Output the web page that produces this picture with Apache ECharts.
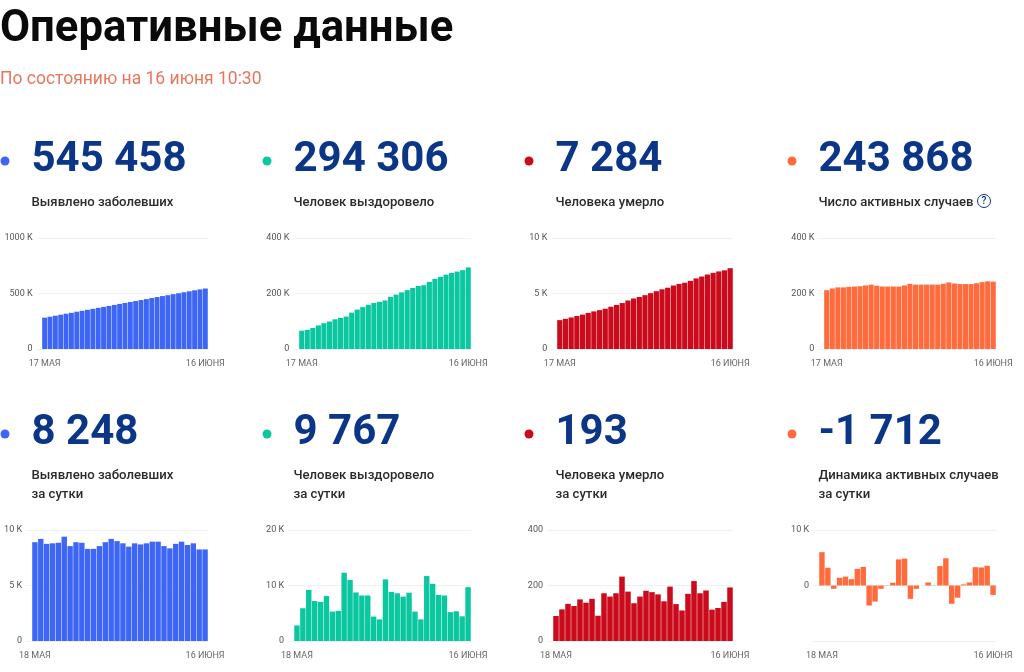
<!DOCTYPE html>
<html lang="ru">
<head>
<meta charset="utf-8">
<title>Оперативные данные</title>
<style>
  html, body { margin: 0; padding: 0; background: #fff; }
  #chart { width: 1024px; height: 672px; }
</style>
<script src="https://cdn.jsdelivr.net/npm/echarts@6/dist/echarts.min.js"></script>
</head>
<body>
<div id="chart"></div>
<script>
// даты
var datesTop = ['17 МАЯ','18 МАЯ','19 МАЯ','20 МАЯ','21 МАЯ','22 МАЯ','23 МАЯ','24 МАЯ','25 МАЯ','26 МАЯ','27 МАЯ','28 МАЯ','29 МАЯ','30 МАЯ','31 МАЯ','1 ИЮНЯ','2 ИЮНЯ','3 ИЮНЯ','4 ИЮНЯ','5 ИЮНЯ','6 ИЮНЯ','7 ИЮНЯ','8 ИЮНЯ','9 ИЮНЯ','10 ИЮНЯ','11 ИЮНЯ','12 ИЮНЯ','13 ИЮНЯ','14 ИЮНЯ','15 ИЮНЯ','16 ИЮНЯ'];
var datesBottom = datesTop.slice(1);

// накопленные значения, тыс.
var casesTotal = [282,291,300,309,318,326,336,344,353,362,371,379,388,397,406,415,424,432,441,450,459,468,477,485,494,502,511,520,529,537,545];
var recoveredTotal = [66,69,76,85,93,99,107,112,117,131,142,151,159,166,170,175,188,196,204,212,220,227,230,242,253,260,268,274,279,284,294];
var deathsTotal = [2.6,2.72,2.84,2.97,3.1,3.25,3.39,3.5,3.63,3.81,3.97,4.14,4.37,4.55,4.69,4.85,5.03,5.21,5.38,5.52,5.72,5.86,5.97,6.14,6.36,6.53,6.71,6.86,6.99,7.09,7.28];
var activeTotal = [212,218,222,222,224,225,226,229,232,228,225,225,225,225,229,235,232,232,232,232,232,235,240,236,234,234,234,237,241,244,243];

// за сутки
var casesDaily = [8.9,9.2,8.75,8.8,8.85,9.4,8.55,8.9,8.85,8.3,8.3,8.55,8.9,9.2,9.0,8.8,8.5,8.8,8.7,8.8,8.95,8.95,8.55,8.35,8.75,8.95,8.65,8.8,8.25,8.25];
var recoveredDaily = [2.8,5.9,9.2,7.2,7.05,8.1,5.3,5.45,12.3,11.0,8.75,8.2,8.2,4.4,3.9,11.1,8.85,8.6,8.0,8.7,5.3,3.9,11.7,10.3,8.3,8.2,5.2,5.35,4.45,9.7];
var deathsDaily = [90,114,134,126,150,138,152,91,172,160,172,232,178,136,160,181,176,168,143,196,133,110,170,216,172,182,113,119,141,193];
var activeDaily = [6.0,3.2,-0.6,1.4,1.6,1.15,3.0,3.35,-3.6,-2.9,-0.6,0.05,0.5,4.7,4.85,-2.4,-0.6,0,0.55,-0.05,3.5,4.9,-3.3,-2.2,0.2,0.55,3.3,3.25,3.55,-1.7];

var BLUE = '#3d66f6', GREEN = '#0bc7a0', RED = '#cb0a1b', ORANGE = '#ff6b3d';

var panels = [
  { big: '545 458', label: 'Выявлено заболевших', color: BLUE, dates: datesTop, data: casesTotal, min: 0, max: 1000, step: 500, unit: ' K', dot: 5, textX: 32, left: 36.6, right: 208 },
  { big: '294 306', label: 'Человек выздоровело', color: GREEN, dates: datesTop, data: recoveredTotal, min: 0, max: 400, step: 200, unit: ' K', dot: 267, textX: 294, left: 293.4, right: 471 },
  { big: '7 284', label: 'Человека умерло', color: RED, dates: datesTop, data: deathsTotal, min: 0, max: 10, step: 5, unit: ' K', dot: 529, textX: 556, left: 551.3, right: 733 },
  { big: '243 868', label: 'Число активных случаев', color: ORANGE, dates: datesTop, data: activeTotal, min: 0, max: 400, step: 200, unit: ' K', dot: 792, textX: 819, left: 818.4, right: 996 },
  { big: '8 248', label: 'Выявлено заболевших\nза сутки', color: BLUE, dates: datesBottom, data: casesDaily, min: 0, max: 10, step: 5, unit: ' K', dot: 5, textX: 32, left: 26.1, right: 208 },
  { big: '9 767', label: 'Человек выздоровело\nза сутки', color: GREEN, dates: datesBottom, data: recoveredDaily, min: 0, max: 20, step: 10, unit: ' K', dot: 267, textX: 294, left: 288.1, right: 471 },
  { big: '193', label: 'Человека умерло\nза сутки', color: RED, dates: datesBottom, data: deathsDaily, min: 0, max: 400, step: 200, unit: '', dot: 529, textX: 556, left: 547, right: 733 },
  { big: '-1 712', label: 'Динамика активных случаев\nза сутки', color: ORANGE, dates: datesBottom, data: activeDaily, min: -10, max: 10, step: 10, unit: ' K', dot: 792, textX: 819, left: 813.1, right: 996 }
];

var grids = [], xAxes = [], yAxes = [], series = [], texts = [];

panels.forEach(function (p, i) {
  var top = i < 4;
  var rowY = top ? 0 : 273;
  grids.push({
    left: p.left,
    width: p.right - p.left,
    top: top ? 238 : 530,
    height: 111,
    outerBoundsMode: 'none'
  });
  // пустая первая категория: линии сетки начинаются левее первого столбца
  var cats = [''].concat(p.dates);
  var lastIdx = cats.length - 1;
  xAxes.push({
    type: 'category',
    gridIndex: i,
    data: cats,
    position: 'bottom',
    axisLine: { show: false, onZero: false },
    axisTick: { show: false },
    splitLine: { show: false },
    axisLabel: {
      show: true,
      interval: function (idx) { return idx === 1 || idx === lastIdx; },
      color: '#666',
      fontFamily: 'Roboto',
      fontSize: 9,
      margin: 10
    }
  });
  yAxes.push({
    type: 'value',
    gridIndex: i,
    min: p.min,
    max: p.max,
    interval: p.step,
    axisLine: { show: false },
    axisTick: { show: false },
    splitLine: { show: true, lineStyle: { color: '#f0f1f3', width: 1 } },
    axisLabel: {
      color: '#555',
      fontFamily: 'Roboto',
      fontSize: 9,
      margin: 4,
      padding: [2, 0, 0, 0],
      formatter: (function (unit) {
        return function (v) {
          if (v < 0) return '';
          return v === 0 ? '0' : v + unit;
        };
      })(p.unit)
    }
  });
  series.push({
    type: 'bar',
    xAxisIndex: i,
    yAxisIndex: i,
    data: [null].concat(p.data),
    barCategoryGap: '8%',
    silent: true,
    itemStyle: { color: p.color }
  });

  // подписи панели
  texts.push({
    type: 'circle',
    silent: true,
    shape: { cx: p.dot, cy: 161 + rowY, r: 4.5 },
    style: { fill: p.color }
  });
  texts.push({
    type: 'text',
    silent: true,
    x: p.textX - 0.5,
    y: 160 + rowY,
    style: {
      text: p.big,
      fill: '#0b3586',
      font: '700 42px Roboto',
      verticalAlign: 'middle'
    }
  });
  texts.push({
    type: 'text',
    silent: true,
    x: p.textX - 0.5,
    y: 193.5 + rowY,
    style: {
      text: p.label,
      fill: '#2b2b2b',
      font: '500 13.15px Roboto',
      lineHeight: 19,
      verticalAlign: 'top'
    }
  });
});

// значок подсказки рядом с "Число активных случаев"
texts.push({
  type: 'circle',
  silent: true,
  shape: { cx: 984, cy: 201, r: 6.5 },
  style: { fill: '#fff', stroke: '#0b3586', lineWidth: 1 }
});
texts.push({
  type: 'text',
  silent: true,
  x: 984,
  y: 201.5,
  style: { text: '?', fill: '#0b3586', font: '500 10px Roboto', align: 'center', verticalAlign: 'middle' }
});

var chart = echarts.init(document.getElementById('chart'), null, { renderer: 'canvas' });
chart.setOption({
  animation: false,
  backgroundColor: '#fff',
  title: {
    text: 'Оперативные данные',
    subtext: 'По состоянию на 16 июня 10:30',
    left: 0,
    top: 8,
    padding: 0,
    itemGap: 19,
    textStyle: { fontFamily: 'Roboto', fontWeight: 700, fontSize: 43.7, color: '#0a0a0a' },
    subtextStyle: { fontFamily: 'Roboto', fontWeight: 400, fontSize: 17.5, color: '#e8765f' }
  },
  grid: grids,
  xAxis: xAxes,
  yAxis: yAxes,
  series: series,
  graphic: texts
});
</script>
</body>
</html>
